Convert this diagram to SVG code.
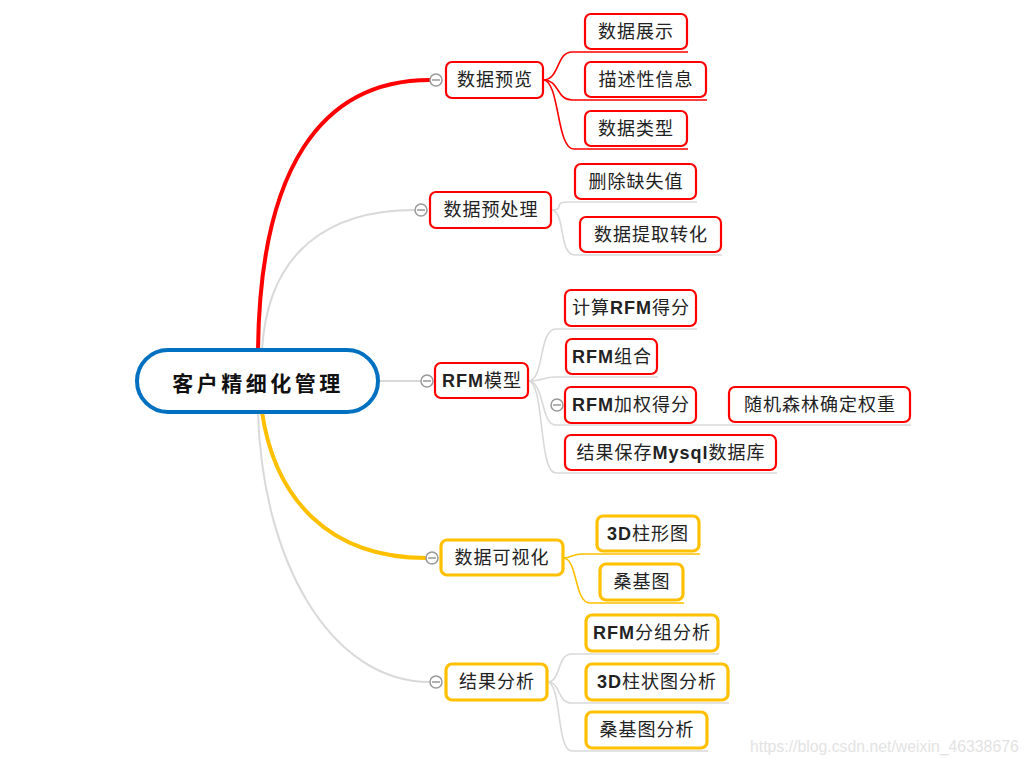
<svg xmlns="http://www.w3.org/2000/svg" width="1030" height="763" viewBox="0 0 1030 763">
<style>
.bx{fill:#fff;stroke-width:2.2}
.red{stroke:#FF0000}
.org{stroke:#FFC000;stroke-width:3.2}
.t{font-family:"Liberation Sans","Noto Sans CJK SC",sans-serif;font-size:18px;fill:#222;text-anchor:middle;dominant-baseline:central;letter-spacing:1px}
.b{font-weight:bold}
.cl{fill:none;stroke-width:1.6}
.cr{stroke:#FF0000}
.cg{stroke:#D9D9D9}
.co{stroke:#FFC000}
.tg circle{fill:#fff;stroke:#999;stroke-width:1.5}
.tg line{stroke:#999;stroke-width:1.5}
</style>
<rect width="1030" height="763" fill="#fff"/>
<g id="connectors" fill="none">
  <path d="M258 350 C260 170 320 80 430 80" stroke="#FF0000" stroke-width="4"/>
  <path d="M262 350 C268 250 330 210 415 210" stroke="#D9D9D9" stroke-width="2"/>
  <path d="M378 381 L421 381" stroke="#D9D9D9" stroke-width="2"/>
  <path d="M262 412 C275 500 330 558 426 558" stroke="#FFC000" stroke-width="4"/>
  <path d="M258 412 C262 560 330 682 430 682" stroke="#D9D9D9" stroke-width="2"/>
  <path class="cl cr" d="M543 80 C560 80 556 52 572 52 H688"/>
  <path class="cl cr" d="M543 80 C560 80 556 100 572 100 H707"/>
  <path class="cl cr" d="M543 80 C560 80 556 149 574 149 H688"/>
  <path class="cl cg" d="M551 210 C566 210 552 202 568 202 H697"/>
  <path class="cl cg" d="M551 210 C566 210 558 255 575 255 H722"/>
  <path class="cl cg" d="M528 381 C545 381 538 329 556 329 H697"/>
  <path class="cl cg" d="M528 381 C545 381 540 377 556 377 H658"/>
  <path class="cl cg" d="M528 381 C545 381 540 425 556 425 H911"/>
  <path class="cl cg" d="M528 381 C545 381 538 473 556 473 H777"/>
  <path class="cl co" d="M563 558 C572 558 572 554 582 554 H700"/>
  <path class="cl co" d="M563 558 C578 558 574 603 590 603 H684"/>
  <path class="cl cg" d="M547 682 C562 682 556 654 572 654 H719"/>
  <path class="cl cg" d="M547 682 C562 682 556 703 572 703 H729"/>
  <path class="cl cg" d="M547 682 C562 682 556 751 572 751 H708"/>
</g>
<g id="root">
  <rect x="137" y="350" width="241" height="62" rx="31" fill="#fff" stroke="#0070C0" stroke-width="4"/>
  <text x="258" y="382" class="t b" style="font-size:21px;letter-spacing:3.5px;font-family:'Noto Sans CJK SC',sans-serif;fill:#111">客户精细化管理</text>
</g>
<g id="n1">
  <g class="tg"><circle cx="436" cy="80" r="6"/><line x1="432" y1="80" x2="440" y2="80"/></g>
  <rect class="bx red" x="446" y="62" width="97" height="36" rx="6"/>
  <text class="t" x="495" y="80">数据预览</text>
</g>
<g id="n2">
  <g class="tg"><circle cx="421" cy="210" r="6"/><line x1="417" y1="210" x2="425" y2="210"/></g>
  <rect class="bx red" x="430" y="192" width="121" height="36" rx="6"/>
  <text class="t" x="491" y="210">数据预处理</text>
</g>
<g id="n3">
  <g class="tg"><circle cx="427" cy="381" r="6"/><line x1="423" y1="381" x2="431" y2="381"/></g>
  <rect class="bx red" x="435" y="363" width="93" height="35" rx="6"/>
  <text class="t" x="482" y="381"><tspan class="b">RFM</tspan>模型</text>
</g>
<g id="n4">
  <g class="tg"><circle cx="432" cy="558" r="6"/><line x1="428" y1="558" x2="436" y2="558"/></g>
  <rect class="bx org" x="441" y="540" width="122" height="35" rx="6"/>
  <text class="t" x="502" y="558">数据可视化</text>
</g>
<g id="n5">
  <g class="tg"><circle cx="436" cy="682" r="6"/><line x1="432" y1="682" x2="440" y2="682"/></g>
  <rect class="bx org" x="446" y="664" width="101" height="36" rx="6"/>
  <text class="t" x="497" y="682">结果分析</text>
</g>
<g id="c11"><rect class="bx red" x="585" y="14" width="102" height="35" rx="6"/><text class="t" x="636" y="32">数据展示</text></g>
<g id="c12"><rect class="bx red" x="585" y="62" width="121" height="35" rx="6"/><text class="t" x="646" y="80">描述性信息</text></g>
<g id="c13"><rect class="bx red" x="585" y="111" width="102" height="35" rx="6"/><text class="t" x="636" y="129">数据类型</text></g>
<g id="c21"><rect class="bx red" x="575" y="164" width="121" height="35" rx="6"/><text class="t" x="636" y="182">删除缺失值</text></g>
<g id="c22"><rect class="bx red" x="580" y="217" width="141" height="35" rx="6"/><text class="t" x="651" y="235">数据提取转化</text></g>
<g id="c31"><rect class="bx red" x="565" y="290" width="131" height="36" rx="6"/><text class="t" x="631" y="308">计算<tspan class="b">RFM</tspan>得分</text></g>
<g id="c32"><rect class="bx red" x="566" y="339" width="91" height="35" rx="6"/><text class="t" x="612" y="357"><tspan class="b">RFM</tspan>组合</text></g>
<g id="c33">
  <g class="tg"><circle cx="557" cy="405" r="6"/><line x1="553" y1="405" x2="561" y2="405"/></g>
  <rect class="bx red" x="565" y="387" width="131" height="36" rx="6"/><text class="t" x="631" y="405"><tspan class="b">RFM</tspan>加权得分</text>
</g>
<g id="c34"><rect class="bx red" x="729" y="387" width="181" height="35" rx="6"/><text class="t" x="820" y="405">随机森林确定权重</text></g>
<g id="c35"><rect class="bx red" x="565" y="435" width="211" height="35" rx="6"/><text class="t" x="671" y="453">结果保存<tspan class="b">Mysql</tspan>数据库</text></g>
<g id="c41"><rect class="bx org" x="597" y="516" width="102" height="35" rx="6"/><text class="t" x="648" y="534"><tspan class="b">3D</tspan>柱形图</text></g>
<g id="c42"><rect class="bx org" x="600" y="564" width="83" height="36" rx="6"/><text class="t" x="642" y="582">桑基图</text></g>
<g id="c51"><rect class="bx org" x="586" y="615" width="132" height="36" rx="6"/><text class="t" x="652" y="633"><tspan class="b">RFM</tspan>分组分析</text></g>
<g id="c52"><rect class="bx org" x="586" y="664" width="142" height="36" rx="6"/><text class="t" x="657" y="682"><tspan class="b">3D</tspan>柱状图分析</text></g>
<g id="c53"><rect class="bx org" x="586" y="712" width="121" height="36" rx="6"/><text class="t" x="647" y="730">桑基图分析</text></g>
<text x="750" y="752" style="font-family:'Liberation Sans',sans-serif;font-size:15.8px;fill:#e3e3e3">https://blog.csdn.net/weixin_46338676</text>
</svg>
